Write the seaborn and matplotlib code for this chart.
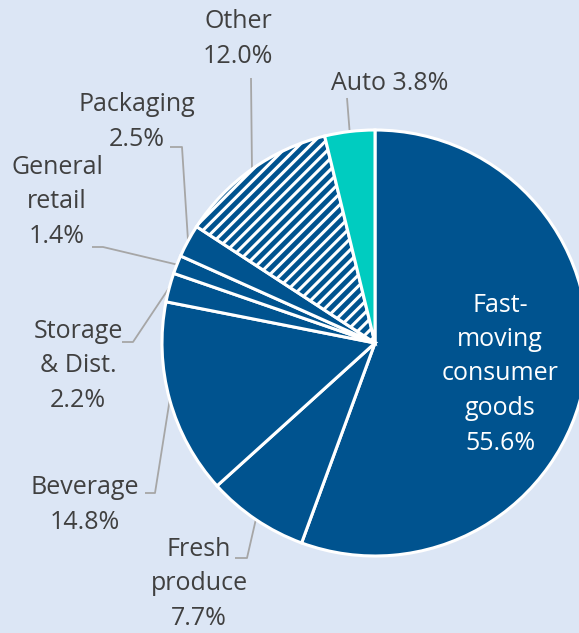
import numpy as np
import matplotlib
matplotlib.use("Agg")
import matplotlib.pyplot as plt
import seaborn as sns

# Sector shares of the customer base, clockwise from 12 o'clock
sectors = ["Fast-\nmoving\nconsumer\ngoods", "Fresh\nproduce", "Beverage", "Storage\n& Dist.",
           "General\nretail", "Packaging", "Other", "Auto"]
shares = [55.6, 7.7, 14.8, 2.2, 1.4, 2.5, 12.0, 3.8]

BG = "#DCE6F5"
BLUE = "#00538F"
TEAL = "#00CCC0"
TEXT = "#404040"
LEADER = "#A6A6A6"

sns.set_theme(style="white")
plt.rcParams["font.family"] = ["Open Sans", "DejaVu Sans"]
plt.rcParams["hatch.linewidth"] = 2.2

W, H = 579, 633
fig = plt.figure(figsize=(W / 100, H / 100), dpi=100, facecolor=BG)
ax = fig.add_axes([0, 0, 1, 1])
ax.set_facecolor(BG)

cx, cy, R = 375, 343, 213
colors = [BLUE] * 6 + [BLUE, TEAL]
wedges, _ = ax.pie(shares, colors=colors, startangle=-90, counterclock=True,
                   center=(cx, cy), radius=R,
                   wedgeprops=dict(edgecolor="white", linewidth=2.2))
wedges[6].set_hatch("///")

ax.set_xlim(0, W)
ax.set_ylim(H, 0)
ax.set_axis_off()

fs = 18
ls = 1.5

# label text: (center x, center y of block), leader path from label to elbow
layout = {
    0: dict(xy=(500, 374), color="white", path=None),
    1: dict(xy=(199, 584), path=[(235, 558), (247, 558)]),
    2: dict(xy=(85, 505), path=[(145, 493), (155, 493)]),
    3: dict(xy=(78, 366), path=[(122, 342), (133, 342)]),
    4: dict(xy=(57, 202), path=[(92, 247), (103, 247)]),
    5: dict(xy=(137, 122), path=[(170, 147), (182, 147)]),
    6: dict(xy=(238, 39), path=[(251, 78)]),
    7: dict(xy=(390, 83), path=[(347, 98)]),
}

for i, (name, val, w) in enumerate(zip(sectors, shares, wedges)):
    spec = layout[i]
    label = f"{name} {val:.1f}%" if i == 7 else f"{name}\n{val:.1f}%"
    ax.text(spec["xy"][0], spec["xy"][1], label, ha="center", va="center",
            fontsize=fs, linespacing=ls, color=spec.get("color", TEXT))
    if spec["path"] is not None:
        mid = np.deg2rad((w.theta1 + w.theta2) / 2)
        edge = (cx + R * np.cos(mid), cy + R * np.sin(mid))
        pts = spec["path"] + [edge]
        xs, ys = zip(*pts)
        ax.plot(xs, ys, color=LEADER, lw=1.3, solid_capstyle="butt", zorder=0.5)

fig.savefig("out.png", dpi=100, facecolor=BG)
